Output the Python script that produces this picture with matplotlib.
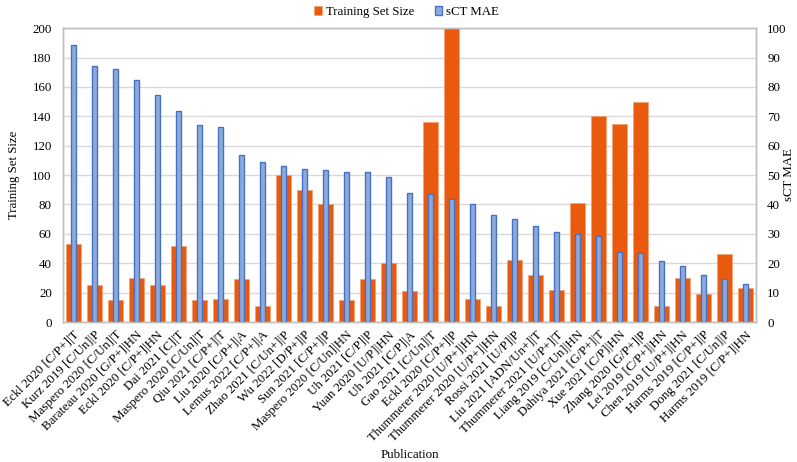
import matplotlib.pyplot as plt
import numpy as np

plt.rcParams['font.family'] = ['Liberation Serif', 'DejaVu Serif']

# publications (category labels)
publications = [
    'Eckl 2020 [C/P+]|T', 'Kurz 2019 [C/Un]|P', 'Maspero 2020 [C/Un]|T',
    'Barateau 2020 [G/P+]|HN', 'Eckl 2020 [C/P+]|HN', 'Dai 2021 [C]|T',
    'Maspero 2020 [C/Un]|T', 'Qiu 2021 [C/P+]|T', 'Liu 2020 [C/P+]|A',
    'Lemus 2022 [C/P+]|A', 'Zhao 2021 [C/Un+]|P', 'Wu 2022 [D/P+]|P',
    'Sun 2021 [C/P+]|P', 'Maspero 2020 [C/Un]|HN', 'Uh 2021 [C/P]|P',
    'Yuan 2020 [U/P]|HN', 'Uh 2021 [C/P]|A', 'Gao 2021 [C/Un]|T',
    'Eckl 2020 [C/P+]|P', 'Thummerer 2020 [U/P+]|HN', 'Thummerer 2020 [U/P+]|HN',
    'Rossi 2021 [U/P]|P', 'Liu 2021 [ADN/Un+]|T', 'Thummerer 2021 [U/P+]|T',
    'Liang 2019 [C/Un]|HN', 'Dahiya 2021 [G/P+]|T', 'Xue 2021 [C/P]|HN',
    'Zhang 2020 [G/P+]|P', 'Lei 2019 [C/P+]|HN', 'Chen 2019 [U/P+]|HN',
    'Harms 2019 [C/P+]|P', 'Dong 2021 [C/Un]|P', 'Harms 2019 [C/P+]|HN',
]

# training set size (left axis)
training_size = [53, 25, 15, 30, 25, 52, 15, 16, 29, 11, 100, 90, 80, 15, 29,
                 40, 21, 136, 200, 16, 11, 42, 32, 22, 81, 140, 135, 150, 11,
                 30, 19, 46, 23]

# sCT MAE (right axis)
sct_mae = [94.3, 87.1, 86.0, 82.5, 77.3, 71.7, 67.1, 66.3, 57.0, 54.5, 53.1,
           52.2, 51.8, 51.2, 51.2, 49.4, 44.0, 43.6, 41.8, 40.3, 36.3, 35.1,
           32.7, 30.7, 29.9, 29.3, 23.7, 23.6, 20.8, 18.9, 16.1, 14.7, 12.9]

orange = '#EA5A0E'
blue_fill = '#8EA9DB'
blue_edge = '#4472C4'
grid_col = '#D9D9D9'
fs = 9.3

x = np.arange(len(publications))

fig, ax = plt.subplots(figsize=(7.97, 4.62), dpi=100)
fig.subplots_adjust(left=0.079, right=0.9486, top=0.939, bottom=0.303)

b1 = ax.bar(x, training_size, width=0.68, color=orange, edgecolor='#F4A070',
            linewidth=0.5, label='Training Set Size', zorder=2)
ax.set_ylim(0, 200)
ax.set_yticks(np.arange(0, 201, 20))
ax.set_xlim(-0.5, len(publications) - 0.5)
ax.grid(axis='y', color=grid_col, linewidth=1, zorder=0)
ax.set_axisbelow(True)

ax2 = ax.twinx()
b2 = ax2.bar(x, sct_mae, width=0.27, color=blue_fill, edgecolor=blue_edge,
             linewidth=1.0, label='sCT MAE', zorder=3)
ax2.set_ylim(0, 100)
ax2.set_yticks(np.arange(0, 101, 10))

ax.set_xticks(x)
ax.set_xticklabels(publications, rotation=45, ha='right', rotation_mode='anchor',
                   fontsize=fs)
ax.tick_params(axis='x', length=0, pad=5)
ax.tick_params(axis='y', length=0, labelsize=fs, pad=8)
ax2.tick_params(axis='y', length=0, labelsize=fs, pad=8)

for a in (ax, ax2):
    for s in a.spines.values():
        s.set_color('#BFBFBF')
        s.set_linewidth(1)

# axis titles placed in figure pixels to match the reference
W, H = 797, 462
fig.text(14 / W, 1 - 175 / H, 'Training Set Size', rotation=90,
         ha='center', va='center', fontsize=fs)
fig.text(789 / W, 1 - 175 / H, 'sCT MAE', rotation=90,
         ha='center', va='center', fontsize=fs)
fig.text(410 / W, 1 - 455 / H, 'Publication', ha='center', va='center',
         fontsize=fs)

fig.legend(handles=[b1, b2], loc='upper center', bbox_to_anchor=(0.51, 1.012),
           ncol=2, frameon=False, fontsize=fs, handlelength=0.6,
           handleheight=0.6, handletextpad=0.3, columnspacing=1.6)

fig.savefig('out.png', dpi=100)
